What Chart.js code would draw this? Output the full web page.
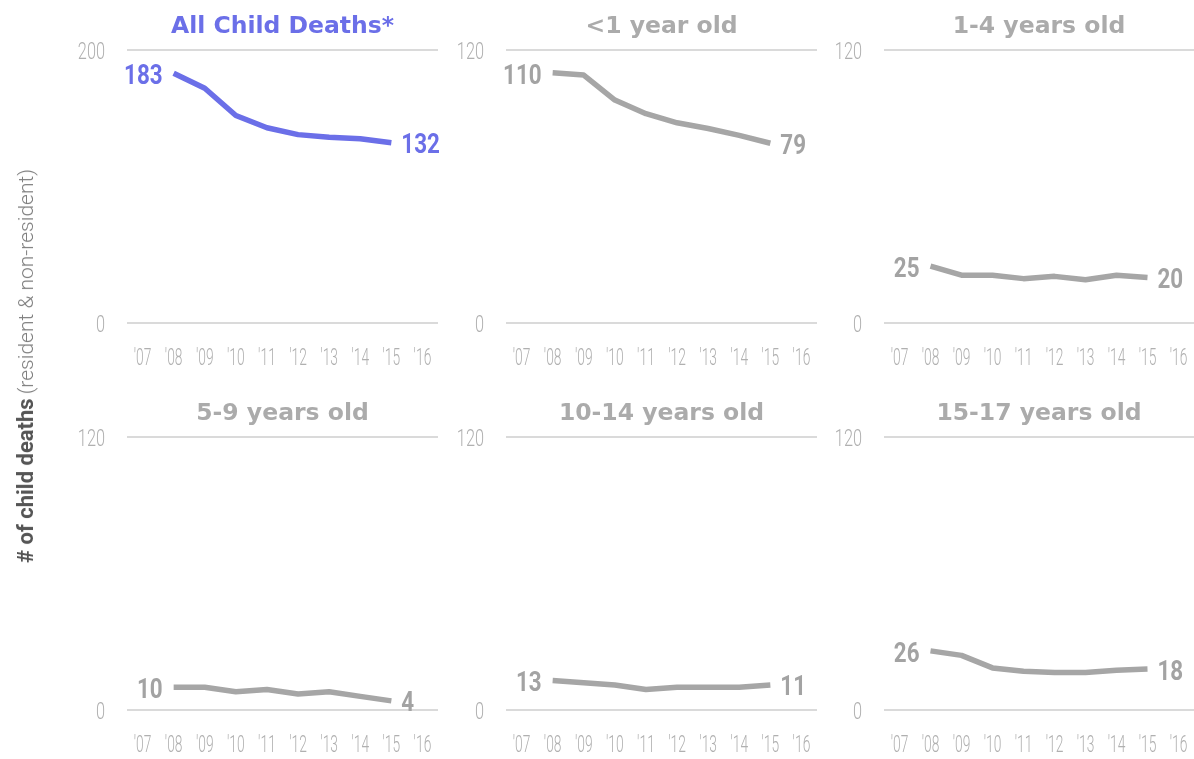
<!DOCTYPE html>
<html>
<head>
<meta charset="utf-8">
<script src="https://cdn.jsdelivr.net/npm/chart.js@4/dist/chart.umd.min.js"></script>
<style>
  html, body { margin: 0; padding: 0; background: #ffffff; }
  body { width: 1194px; height: 759px; position: relative; overflow: hidden; }
  .cell { position: absolute; }
  .ytitle {
    position: absolute; left: 26px; top: 366px; z-index: 5;
    transform: translate(-50%, -50%) rotate(-90deg);
    white-space: nowrap;
    font-family: Roboto, 'Liberation Sans', sans-serif;
    line-height: 1;
  }
  .ytitle b { font-weight: 700; font-size: 22px; color: #555555; }
  .ytitle span { font-weight: 300; font-size: 21px; color: #7f7f7f; }
</style>
</head>
<body>
<div class="ytitle"><b># of child deaths</b> <span>(resident &amp; non-resident)</span></div>
<div class="cell" style="left:0px;top:0px;width:440px;height:383px;"><canvas id="k0"></canvas></div>
<div class="cell" style="left:420px;top:0px;width:400px;height:383px;"><canvas id="k1"></canvas></div>
<div class="cell" style="left:800px;top:0px;width:394px;height:383px;"><canvas id="k2"></canvas></div>
<div class="cell" style="left:0px;top:387px;width:440px;height:383px;"><canvas id="k3"></canvas></div>
<div class="cell" style="left:420px;top:387px;width:400px;height:383px;"><canvas id="k4"></canvas></div>
<div class="cell" style="left:800px;top:387px;width:394px;height:383px;"><canvas id="k5"></canvas></div>
<script>
// ---- data ----
const years = ["'07", "'08", "'09", "'10", "'11", "'12", "'13", "'14", "'15", "'16"];
const titles = ["All Child Deaths*", "<1 year old", "1-4 years old", "5-9 years old", "10-14 years old", "15-17 years old"];
const allChildDeaths = [null, 183, 172, 152, 143, 138, 136, 135, 132, null];
const under1 = [null, 110, 109, 98, 92, 88, 85.5, 82.5, 79, null];
const age1to4 = [null, 25, 21, 21, 19.5, 20.5, 19, 21, 20, null];
const age5to9 = [null, 10, 10, 8, 9, 7, 8, 6, 4, null];
const age10to14 = [null, 13, 12, 11, 9, 10, 10, 10, 11, null];
const age15to17 = [null, 26, 24, 18.5, 17, 16.5, 16.5, 17.5, 18, null];
const yMax = [200, 120, 120, 120, 120, 120];

// ---- style ----
const BLUE = '#6b6fe8';
const GREY = '#a6a6a6';
const TICK = '#b0b0b0';
const series = [allChildDeaths, under1, age1to4, age5to9, age10to14, age15to17];
const colors = [BLUE, GREY, GREY, GREY, GREY, GREY];
const yAxisWidth = [127, 86, 84, 127, 86, 84];
const padRight = [2, 3, 0, 2, 3, 0];

function drawNarrow(ctx, text, x, y, sx) {
  ctx.save();
  ctx.translate(x, y);
  ctx.scale(sx, 1);
  ctx.fillText(text, 0, 0);
  ctx.restore();
}

// tick labels and end-point labels, drawn in a condensed style at positions from the chart's own scales
const narrowText = {
  id: 'narrowText',
  afterDatasetsDraw(chart, args, opts) {
    const ctx = chart.ctx;
    const xs = chart.scales.x, ys = chart.scales.y;
    const area = chart.chartArea;
    ctx.save();
    // x tick labels
    ctx.fillStyle = TICK;
    ctx.font = '300 23px Roboto';
    ctx.textAlign = 'center';
    ctx.textBaseline = 'alphabetic';
    xs.ticks.forEach((t, i) => {
      drawNarrow(ctx, String(chart.data.labels[i]), xs.getPixelForTick(i), area.bottom + 42, 0.6);
    });
    // y tick labels
    ctx.font = '300 24px Roboto';
    ctx.textAlign = 'right';
    ys.ticks.forEach((t) => {
      drawNarrow(ctx, String(t.value), area.left - 22, ys.getPixelForValue(t.value) + 8.5, 0.68);
    });
    // end-point labels
    const ds = chart.data.datasets[0];
    const meta = chart.getDatasetMeta(0);
    let first = -1, last = -1;
    ds.data.forEach((v, i) => { if (v !== null) { if (first < 0) first = i; last = i; } });
    if (first >= 0) {
      ctx.font = '700 28px Roboto';
      ctx.fillStyle = opts.color;
      const p0 = meta.data[first], p1 = meta.data[last];
      ctx.textAlign = 'right';
      drawNarrow(ctx, String(ds.data[first]), p0.x - 11, p0.y + 11, 0.8);
      ctx.textAlign = 'left';
      drawNarrow(ctx, String(ds.data[last]), p1.x + 10, p1.y + 10.5, 0.8);
    }
    ctx.restore();
  }
};

series.forEach((data, i) => {
  const yw = yAxisWidth[i];
  new Chart(document.getElementById('k' + i), {
    type: 'line',
    data: {
      labels: years,
      datasets: [{
        data: data,
        borderColor: colors[i],
        borderWidth: 5.5,
        pointRadius: 0,
        pointHoverRadius: 0,
        tension: 0,
        borderJoinStyle: 'round',
        borderCapStyle: 'butt',
        fill: false,
        spanGaps: false
      }]
    },
    options: {
      responsive: true,
      maintainAspectRatio: false,
      animation: false,
      events: [],
      layout: { padding: { left: 0, right: padRight[i], top: 0, bottom: 0 } },
      plugins: {
        legend: { display: false },
        tooltip: { enabled: false },
        title: {
          display: true,
          text: titles[i],
          fullSize: false,
          color: i === 0 ? BLUE : '#ababab',
          font: { family: "'DejaVu Sans', sans-serif", size: 23.5, weight: '700', lineHeight: 1.2 },
          padding: { top: 12.5, bottom: 9.3 }
        },
        narrowText: { color: colors[i] === BLUE ? BLUE : '#a3a3a3' }
      },
      scales: {
        x: {
          type: 'category',
          offset: true,
          grid: { display: false, drawTicks: false },
          border: { display: false },
          afterFit: (s) => { s.height = 60; },
          ticks: { display: false, autoSkip: false, maxRotation: 0, minRotation: 0 }
        },
        y: {
          min: 0,
          max: yMax[i],
          afterFit: (s) => { s.width = yw; },
          afterBuildTicks: (s) => { s.ticks = [{ value: 0 }, { value: yMax[i] }]; },
          grid: { color: '#dadada', lineWidth: 2, drawTicks: false },
          border: { display: false },
          ticks: { display: false }
        }
      }
    },
    plugins: [narrowText]
  });
});
</script>
</body>
</html>
